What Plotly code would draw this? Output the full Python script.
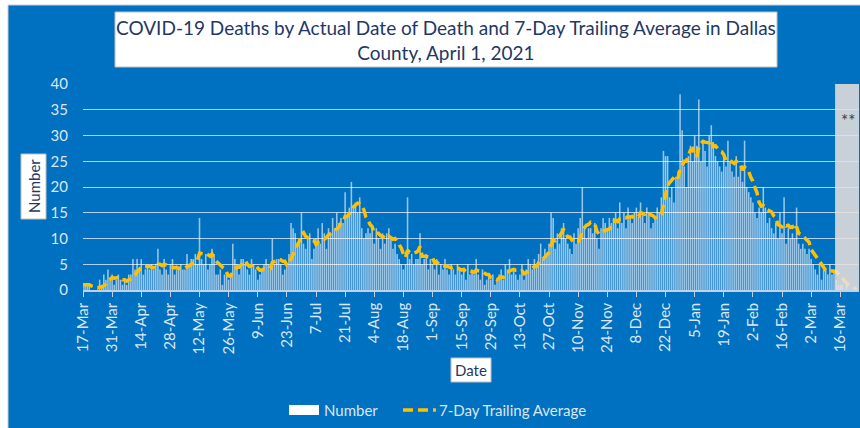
import pandas as pd
import plotly.graph_objects as go

# ---------------- data ----------------
start_date = "2020-03-17"
daily_deaths = [
    1, 1, 1, 1, 0, 0, 0,
    0, 2, 1, 3, 2, 4, 2,
    3, 1, 2, 3, 2, 1, 2,
    1, 3, 3, 6, 4, 6, 4,
    6, 3, 4, 5, 4, 5, 4,
    5, 8, 4, 3, 6, 4, 3,
    5, 6, 3, 4, 4, 5, 4,
    4, 7, 5, 6, 6, 7, 5,
    14, 6, 5, 7, 4, 5, 8,
    7, 3, 3, 4, 1, 3, 3,
    2, 3, 9, 6, 5, 3, 6,
    6, 5, 4, 3, 6, 5, 4,
    2, 3, 4, 5, 6, 5, 4,
    10, 5, 6, 6, 5, 3, 4,
    5, 7, 13, 12, 11, 9, 9,
    15, 9, 8, 10, 11, 6, 8,
    10, 12, 9, 13, 11, 8, 12,
    11, 14, 12, 15, 13, 14, 13,
    19, 14, 16, 21, 16, 17, 15,
    18, 12, 10, 11, 12, 11, 12,
    9, 12, 10, 8, 11, 9, 11,
    12, 10, 8, 9, 7, 6, 5,
    4, 5, 18, 6, 7, 5, 6,
    6, 11, 5, 6, 7, 4, 6,
    5, 4, 6, 3, 5, 4, 6,
    4, 3, 5, 4, 3, 5, 4,
    3, 4, 2, 5, 3, 4, 3,
    6, 3, 2, 4, 1, 2, 3,
    2, 3, 1, 2, 3, 4, 2,
    5, 4, 6, 3, 4, 3, 2,
    3, 5, 2, 4, 6, 5, 4,
    6, 5, 7, 9, 6, 8, 7,
    9, 15, 14, 8, 11, 9, 12,
    13, 10, 9, 8, 7, 11, 9,
    12, 14, 20, 12, 10, 12, 12,
    11, 13, 10, 8, 12, 14, 13,
    12, 14, 13, 14, 15, 12, 17,
    13, 15, 12, 16, 14, 13, 15,
    16, 14, 17, 15, 13, 16, 15,
    12, 13, 14, 16, 15, 18, 27,
    26, 26, 18, 20, 17, 22, 23,
    38, 31, 24, 20, 26, 28, 25,
    30, 28, 37, 25, 29, 27, 24,
    30, 32, 28, 26, 25, 24, 23,
    26, 24, 29, 25, 23, 22, 26,
    22, 24, 21, 29, 20, 19, 18,
    17, 15, 14, 16, 15, 20, 16,
    13, 14, 12, 11, 13, 10, 15,
    11, 18, 9, 12, 10, 11, 10,
    16, 9, 8, 9, 8, 7, 8,
    6, 5, 4, 3, 5, 2, 4,
    4, 3, 5, 3, 4, 2, 1,
    1, 1, 0, 1, 0, 0, 0,
    0, 0,
]
tick_labels = ["17-Mar", "31-Mar", "14-Apr", "28-Apr", "12-May", "26-May", "9-Jun",
               "23-Jun", "7-Jul", "21-Jul", "4-Aug", "18-Aug", "1-Sep", "15-Sep",
               "29-Sep", "13-Oct", "27-Oct", "10-Nov", "24-Nov", "8-Dec", "22-Dec",
               "5-Jan", "19-Jan", "2-Feb", "16-Feb", "2-Mar", "16-Mar"]
incomplete_from = "2021-03-13 12:00"
axis_end = "2021-03-25"
series_names = ["Number", "7-Day Trailing Average"]
title_text = "COVID-19 Deaths by Actual Date of Death and 7-Day Trailing Average in Dallas<br>County, April 1, 2021"

dates = pd.date_range(start_date, periods=len(daily_deaths), freq="D")
trailing_avg = pd.Series(daily_deaths).rolling(7, min_periods=1).mean()
tick_dates = dates[::14][:len(tick_labels)]

# ---------------- figure ----------------
W, H = 860, 428
ML, MR, MT, MB = 83, 1, 84, 138
PW, PH = W - ML - MR, H - MT - MB
BLUE = "#0070C0"
LIGHT = "#DCE6F1"
DARK = "#1F3864"
FONT = "Lato"


def px(x):
    return (x - ML) / PW


def py(y):
    return (H - MB - y) / PH


fig = go.Figure()
fig.add_trace(go.Bar(x=dates, y=daily_deaths, name=series_names[0],
                     marker=dict(color="rgba(255,255,255,0.6)", line=dict(width=0)),
                     showlegend=False))
fig.add_trace(go.Scatter(x=dates, y=trailing_avg, name=series_names[1], mode="lines",
                         line=dict(color="#FFC000", width=3.5, dash="10px,5px"),
                         showlegend=False))

shapes = [
    dict(type="rect", xref="paper", yref="paper", x0=px(8), x1=px(862), y0=py(430), y1=py(5),
         fillcolor=BLUE, line=dict(color="#C8CED6", width=1), layer="below"),
    dict(type="rect", xref="paper", yref="paper", x0=px(115), x1=px(777), y0=py(67), y1=py(12),
         fillcolor="white", line=dict(color="#BFBFBF", width=1), layer="above"),
    dict(type="rect", xref="paper", yref="paper", x0=px(21), x1=px(46), y0=py(219), y1=py(154),
         fillcolor="white", line=dict(color="#BFBFBF", width=1), layer="above"),
    dict(type="rect", xref="paper", yref="paper", x0=px(451), x1=px(491), y0=py(382), y1=py(358),
         fillcolor="white", line=dict(color="#BFBFBF", width=1), layer="above"),
    dict(type="rect", xref="x", yref="y", x0=incomplete_from, x1=axis_end, y0=0, y1=40,
         fillcolor="rgb(235,225,220)", opacity=0.85, line=dict(width=0), layer="above"),
    dict(type="rect", xref="paper", yref="paper", x0=px(289), x1=px(319), y0=py(415), y1=py(405),
         fillcolor="white", line=dict(width=0), layer="above"),
    dict(type="line", xref="paper", yref="paper", x0=px(403), x1=px(436), y0=py(410), y1=py(410),
         line=dict(color="#FFC000", width=3.5, dash="10px,5px"), layer="above"),
]

annotations = [
    dict(text=title_text, xref="paper", yref="paper", x=px(446), y=py(40),
         xanchor="center", yanchor="middle", showarrow=False,
         font=dict(family=FONT, size=19, color=DARK)),
    dict(text="Number", xref="paper", yref="paper", x=px(33.5), y=py(186.5),
         xanchor="center", yanchor="middle", showarrow=False, textangle=-90,
         font=dict(family=FONT, size=15, color=DARK)),
    dict(text="Date", xref="paper", yref="paper", x=px(471), y=py(370),
         xanchor="center", yanchor="middle", showarrow=False,
         font=dict(family=FONT, size=15, color=DARK)),
    dict(text="**", xref="paper", yref="paper", x=px(848), y=py(120),
         xanchor="center", yanchor="middle", showarrow=False,
         font=dict(family=FONT, size=17, color="#404040")),
    dict(text=series_names[0], xref="paper", yref="paper", x=px(322), y=py(410),
         xanchor="left", yanchor="middle", showarrow=False,
         font=dict(family=FONT, size=15, color=LIGHT)),
    dict(text=series_names[1], xref="paper", yref="paper", x=px(437), y=py(410),
         xanchor="left", yanchor="middle", showarrow=False,
         font=dict(family=FONT, size=15, color=LIGHT)),
]

fig.update_layout(
    width=W, height=H, autosize=False,
    margin=dict(l=ML, r=MR, t=MT, b=MB, pad=0),
    paper_bgcolor="white", plot_bgcolor=BLUE,
    bargap=0.25,
    font=dict(family=FONT, color=LIGHT),
    shapes=shapes, annotations=annotations,
    xaxis=dict(type="date", range=[start_date, axis_end], tickvals=tick_dates, ticktext=tick_labels,
               tickangle=-90, tickfont=dict(family=FONT, size=15, color=LIGHT),
               ticks="outside", ticklen=5, tickcolor="#BFD3E8", tickwidth=1,
               showline=True, linecolor="#BFD3E8", linewidth=1.5,
               showgrid=False, zeroline=False, fixedrange=True),
    yaxis=dict(range=[0, 40], dtick=5, tick0=0, tickfont=dict(family=FONT, size=15, color=LIGHT),
               showgrid=True, gridcolor="rgba(225,235,245,0.8)", gridwidth=1.3,
               zeroline=False, showline=False, ticks="", ticklabelstandoff=14, fixedrange=True),
)

# remove the default page margin so the 860x428 figure fills the window exactly
fig.write_html("out.html", config={"displayModeBar": False},
               post_script="document.body.style.margin='0';")
